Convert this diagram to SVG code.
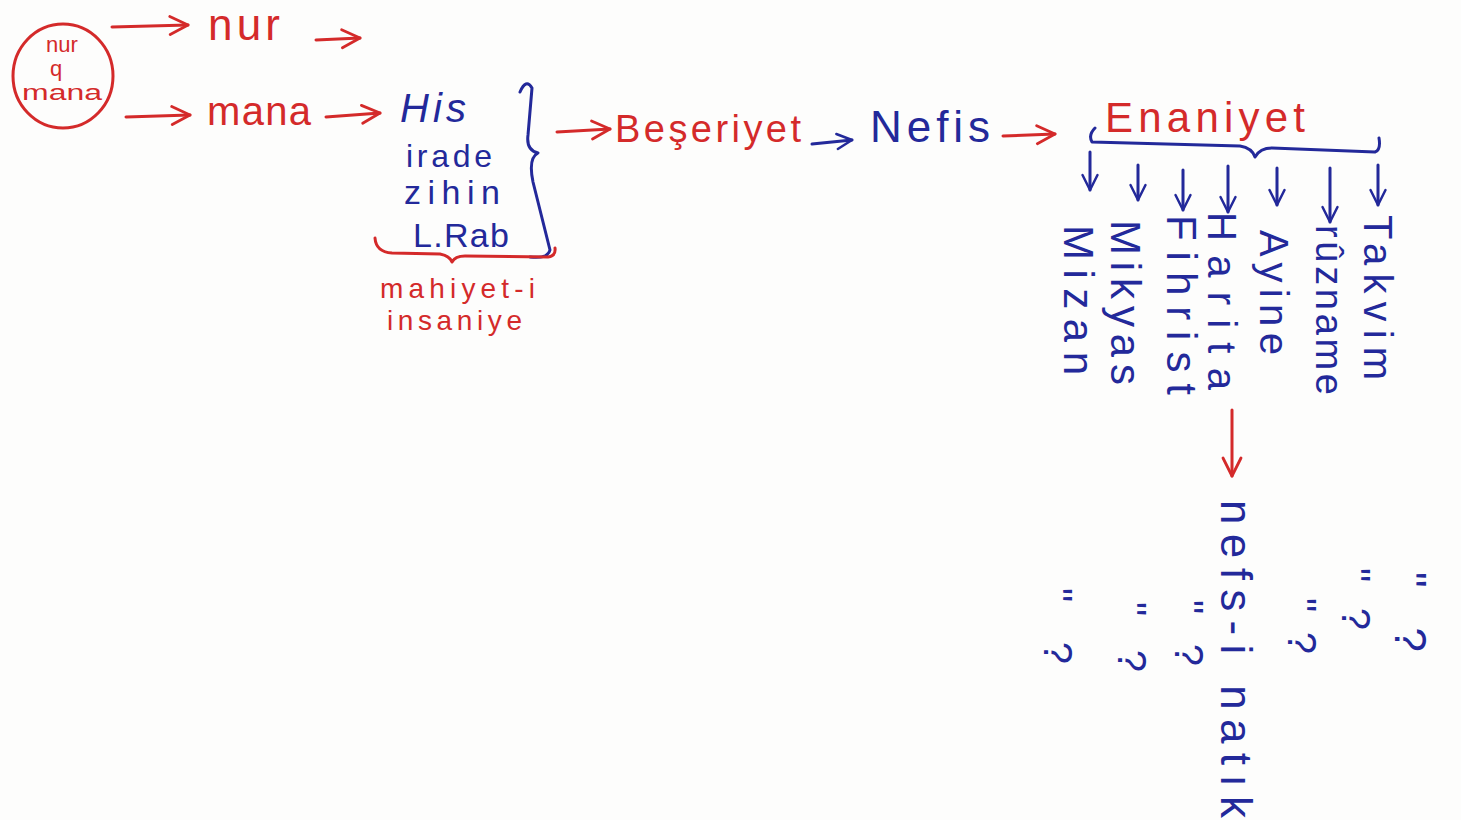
<svg xmlns="http://www.w3.org/2000/svg" width="1461" height="820" viewBox="0 0 1461 820">
<defs>
<style>
.r{fill:#d42a2a;font-family:"Liberation Sans",Arial,sans-serif}
.b{fill:#23299a;font-family:"Liberation Sans",Arial,sans-serif}
.lr{stroke:#d42a2a;stroke-width:3;fill:none;stroke-linecap:round;stroke-linejoin:round}
.lb{stroke:#23299a;stroke-width:3;fill:none;stroke-linecap:round;stroke-linejoin:round}
</style>
<marker id="ar" viewBox="0 0 12 12" refX="10" refY="6" markerWidth="24" markerHeight="24" markerUnits="userSpaceOnUse" orient="auto">
<path d="M1,1.5 L10,6 L1,10.5" stroke="#d42a2a" stroke-width="1.4" fill="none" stroke-linecap="round" stroke-linejoin="round"/>
</marker>
<marker id="ab" viewBox="0 0 12 12" refX="10" refY="6" markerWidth="20" markerHeight="20" markerUnits="userSpaceOnUse" orient="auto">
<path d="M1,1.5 L10,6 L1,10.5" stroke="#23299a" stroke-width="1.5" fill="none" stroke-linecap="round" stroke-linejoin="round"/>
</marker>
</defs>
<rect width="1461" height="820" fill="#fdfdfc"/>

<g id="connectors">
<path class="lr" d="M112,27 L188,25" marker-end="url(#ar)"/>
<path class="lr" d="M316,40 L360,38" marker-end="url(#ar)"/>
<path class="lr" d="M126,117 L190,115" marker-end="url(#ar)"/>
<path class="lr" d="M326,117 L380,113" marker-end="url(#ar)"/>
<path class="lr" d="M557,132 L610,129" marker-end="url(#ar)"/>
<path class="lb" d="M812,144 L852,140" marker-end="url(#ab)"/>
<path class="lr" d="M1003,136 L1055,134" marker-end="url(#ar)"/>
<path class="lb" d="M1090,152 L1090,190" marker-end="url(#ab)"/>
<path class="lb" d="M1138,165 L1138,200" marker-end="url(#ab)"/>
<path class="lb" d="M1183,170 L1183,210" marker-end="url(#ab)"/>
<path class="lb" d="M1228,166 L1228,212" marker-end="url(#ab)"/>
<path class="lb" d="M1277,168 L1277,205" marker-end="url(#ab)"/>
<path class="lb" d="M1330,168 L1330,222" marker-end="url(#ab)"/>
<path class="lb" d="M1378,165 L1378,205" marker-end="url(#ab)"/>
<path class="lr" d="M1232,410 L1232,476" marker-end="url(#ar)"/>
</g>

<g id="node-nur-mana">
<ellipse cx="63" cy="76" rx="50" ry="52" class="lr"/>
<text class="r" x="62" y="52" font-size="22" text-anchor="middle">nur</text>
<text class="r" x="56" y="76" font-size="22" text-anchor="middle">q</text>
<text class="r" x="62" y="100" font-size="22" text-anchor="middle" textLength="80" lengthAdjust="spacingAndGlyphs">mana</text>
</g>

<g id="node-nur"><text class="r" x="208" y="40" font-size="44" textLength="72">nur</text></g>
<g id="node-mana"><text class="r" x="207" y="125" font-size="40" textLength="104">mana</text></g>

<g id="node-faculties">
<text class="b" x="400" y="122" font-size="40" font-style="italic" textLength="66">His</text>
<text class="b" x="406" y="167" font-size="32" textLength="86">irade</text>
<text class="b" x="404" y="204" font-size="34" textLength="96">zihin</text>
<text class="b" x="413" y="247" font-size="34" textLength="96">L.Rab</text>
<path class="lb" d="M520,92 Q526,78 532,88 L528,135 Q526,150 538,153 Q528,158 533,182 L550,250 Q548,259 530,257"/>
<path class="lr" d="M375,238 Q376,252 392,253 L440,254 Q450,256 452,262 Q455,256 465,256 L548,257 Q556,256 555,248"/>
<text class="r" x="380" y="298" font-size="28" textLength="155">mahiyet-i</text>
<text class="r" x="387" y="330" font-size="28" textLength="135">insaniye</text>
</g>

<g id="node-beseriyet"><text class="r" x="615" y="142" font-size="38" textLength="186">Beşeriyet</text></g>
<g id="node-nefis"><text class="b" x="870" y="142" font-size="44" textLength="120">Nefis</text></g>
<g id="node-enaniyet">
<text class="r" x="1105" y="132" font-size="42" textLength="200">Enaniyet</text>
<path class="lb" d="M1095,128 Q1088,135 1092,142 L1240,146 Q1252,148 1255,157 Q1260,148 1272,148 L1375,152 Q1381,150 1379,138"/>
</g>

<g id="node-mizan"><text class="b" transform="translate(1064,225) rotate(90)" font-size="42" textLength="150">Mizan</text></g>
<g id="node-mikyas"><text class="b" transform="translate(1111,220) rotate(90)" font-size="42" textLength="165">Mikyas</text></g>
<g id="node-fihrist"><text class="b" transform="translate(1167,215) rotate(90)" font-size="42" textLength="180">Fihrist</text></g>
<g id="node-harita"><text class="b" transform="translate(1208,212) rotate(90)" font-size="40" textLength="178">Harita</text></g>
<g id="node-ayine"><text class="b" transform="translate(1260,230) rotate(90)" font-size="40" textLength="125">Ayine</text></g>
<g id="node-ruzname"><text class="b" transform="translate(1316,225) rotate(90)" font-size="38" textLength="170">rûzname</text></g>
<g id="node-takvim"><text class="b" transform="translate(1364,215) rotate(90)" font-size="40" textLength="165">Takvim</text></g>

<g id="node-nefs-i-natik"><text class="b" transform="translate(1221,500) rotate(90)" font-size="44" textLength="318">nefs-i natık</text></g>

<g id="ditto-marks">
<text class="b" transform="translate(1044,588) rotate(90)" font-size="40" textLength="76">" ?</text>
<text class="b" transform="translate(1118,602) rotate(90)" font-size="40" textLength="70">" ?</text>
<text class="b" transform="translate(1175,600) rotate(90)" font-size="40" textLength="66">" ?</text>
<text class="b" transform="translate(1288,598) rotate(90)" font-size="40" textLength="56">" ?</text>
<text class="b" transform="translate(1342,568) rotate(90)" font-size="40" textLength="62">" ?</text>
<text class="b" transform="translate(1395,572) rotate(90)" font-size="44" textLength="80">" ?</text>
</g>
</svg>
